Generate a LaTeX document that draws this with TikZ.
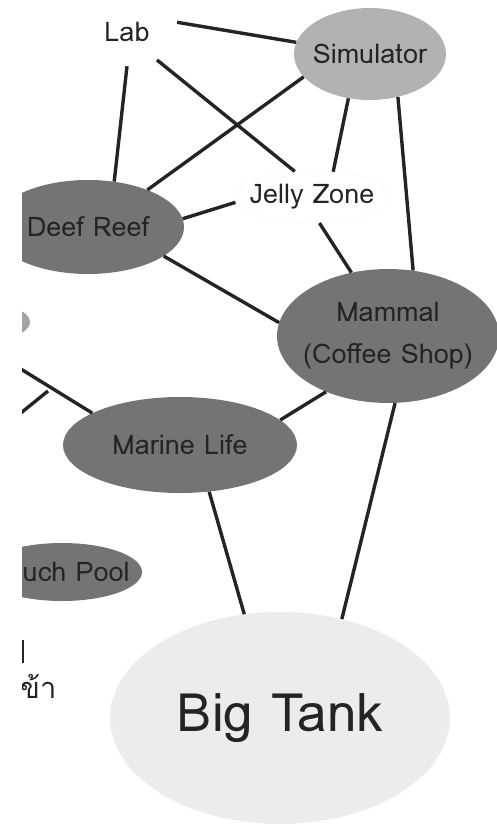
\documentclass[tikz,border=0pt]{standalone}
\usepackage{fontspec}
\setmainfont{Loma}
\newfontfamily\thaifont[Script=Thai]{Loma}
\usepackage{xcolor}
\definecolor{HallDark}{HTML}{747474}
\definecolor{HallLight}{HTML}{B2B2B2}
\definecolor{PondGray}{HTML}{A3A3A3}
\definecolor{TankGray}{HTML}{ECECEC}
\definecolor{InkDark}{HTML}{242424}
\usepackage{tikz}
\usetikzlibrary{shapes.geometric}

\begin{document}
\begin{tikzpicture}[x=1pt, y=-1pt,
    zone/.style={ellipse, inner ysep=0pt, inner xsep=-2em, text=InkDark,
      font=\fontsize{27}{42}\selectfont, align=center},
    link/.style={line width=3.4pt, color=InkDark}]
  \useasboundingbox (0,0) rectangle (497,824);
  \clip (22,0) rectangle (497,824);

  % zones
  \node[zone, minimum width=104, minimum height=68] (lab) at (127,32) {Lab};
  \node[zone, fill=HallLight, minimum width=152, minimum height=92] (sim) at (370,54) {Simulator};
  \node[zone, fill=HallDark, minimum width=192, minimum height=94] (deef) at (88,227) {Deef Reef};
  \node[zone, draw=gray!25, densely dotted, minimum width=156, minimum height=52] (jelly) at (312,197) {Jelly Zone};
  \node[zone, fill=HallDark, minimum width=222, minimum height=134] (mammal) at (388,336) {Mammal\\(Coffee Shop)};
  \node[zone, fill=PondGray, minimum width=140, minimum height=46] (pond) at (-40,322) {};
  \node[zone, fill=HallDark, minimum width=234, minimum height=96] (marine) at (180,445) {Marine Life};
  \node[zone, fill=HallDark, minimum width=160, minimum height=58] (touch) at (62,572) {Touch Pool};
  \node[zone, fill=TankGray, minimum width=340, minimum height=212,
    font=\fontsize{53}{60}\selectfont] (tank) at (280,718) {Big Tank};
  \node[anchor=west, inner sep=0pt, text=InkDark,
    font=\thaifont\fontsize{29}{30}\selectfont] (gate) at (20,686) {ข้า};
  \draw[line width=1.8pt, color=InkDark] (23,640) -- (23,663);

  % off-picture ends
  \coordinate (westA) at (-10,350);
  \coordinate (westB) at (-10,438);
  \coordinate (meet) at (48,391);

  % links
  \draw[link] (lab.11) -- (sim.171);
  \draw[link] (lab.-90) -- (deef.60);
  \draw[link] (lab.-43) -- (jelly.124);
  \draw[link] (sim.199) -- (deef.32);
  \draw[link] (sim.244) -- (jelly.50);
  \draw[link] (sim.-57) -- (mammal.69);
  \draw[link] (deef.5) -- (jelly.184);
  \draw[link] (jelly.-74) -- (mammal.120);
  \draw[link] (deef.-21) -- (mammal.173);
  \draw[link] (mammal.222) -- (marine.14);
  \draw[link] (westA) -- (marine.160);
  \draw[link] (westB) -- (meet);
  \draw[link] (marine.-58) -- (tank.109);
  \draw[link] (mammal.-84) -- (tank.58);
\end{tikzpicture}
\end{document}
